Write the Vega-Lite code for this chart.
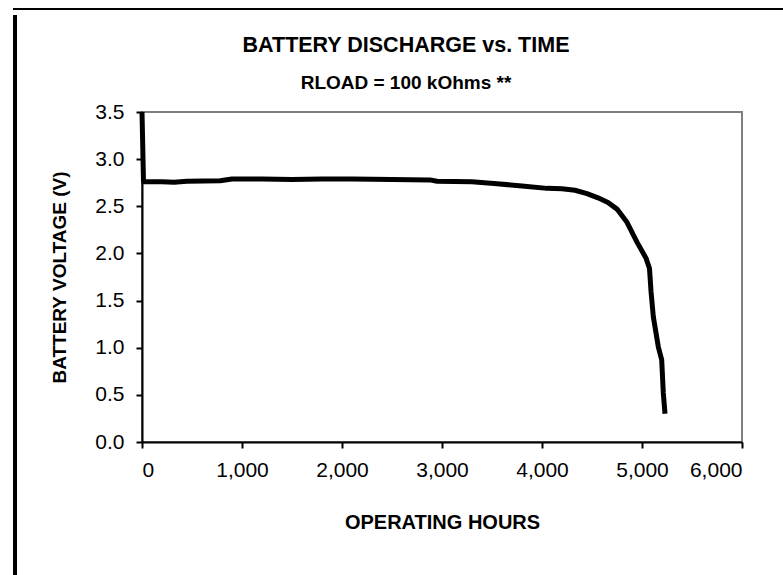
{
  "$schema": "https://vega.github.io/schema/vega-lite/v6.json",
  "background": "white",
  "padding": {"left": 12, "top": 6, "right": 0, "bottom": 0},
  "spacing": 0,
  "align": "none",
  "vconcat": [
    {
      "width": 771,
      "height": 2,
      "view": {"fill": "black", "stroke": null},
      "data": {"values": [{}]},
      "mark": {"type": "point", "opacity": 0},
      "encoding": {}
    },
    {
      "spacing": 31,
      "align": "none",
      "hconcat": [
        {
          "width": 4,
          "height": 567,
          "view": {"fill": "black", "stroke": null},
          "data": {"values": [{}]},
          "mark": {"type": "point", "opacity": 0},
          "encoding": {}
        },
        {
          "spacing": 15,
          "align": "none",
          "vconcat": [
            {
              "width": 10,
              "height": 1,
              "view": {"fill": null, "stroke": null},
              "data": {"values": [{}]},
              "mark": {"type": "point", "opacity": 0},
              "encoding": {}
            },
            {
              "width": 600,
              "height": 330,
              "view": {"stroke": "#7f7f7f", "strokeWidth": 2, "fill": "white"},
              "title": {
                "text": "BATTERY DISCHARGE vs. TIME",
                "subtitle": "RLOAD = 100 kOhms **",
                "anchor": "middle",
                "dx": -36,
                "font": "Liberation Sans, Arial, sans-serif",
                "fontSize": 21.5,
                "fontWeight": "bold",
                "color": "black",
                "subtitleFont": "Liberation Sans, Arial, sans-serif",
                "subtitleFontSize": 19,
                "subtitleFontWeight": "bold",
                "subtitleColor": "black",
                "subtitlePadding": 17,
                "offset": 8.5
              },
              "data": {
                "values": [
                  {"hours": 0, "volts": 3.5},
                  {"hours": 15, "volts": 2.76},
                  {"hours": 200, "volts": 2.76},
                  {"hours": 320, "volts": 2.755},
                  {"hours": 450, "volts": 2.765},
                  {"hours": 780, "volts": 2.77},
                  {"hours": 900, "volts": 2.79},
                  {"hours": 1200, "volts": 2.79},
                  {"hours": 1500, "volts": 2.785},
                  {"hours": 1800, "volts": 2.79},
                  {"hours": 2100, "volts": 2.79},
                  {"hours": 2500, "volts": 2.785},
                  {"hours": 2880, "volts": 2.78},
                  {"hours": 2950, "volts": 2.765},
                  {"hours": 3300, "volts": 2.76},
                  {"hours": 3550, "volts": 2.74},
                  {"hours": 3800, "volts": 2.715},
                  {"hours": 4050, "volts": 2.69},
                  {"hours": 4200, "volts": 2.685},
                  {"hours": 4330, "volts": 2.67},
                  {"hours": 4450, "volts": 2.635},
                  {"hours": 4560, "volts": 2.59},
                  {"hours": 4660, "volts": 2.54},
                  {"hours": 4750, "volts": 2.47},
                  {"hours": 4850, "volts": 2.33},
                  {"hours": 4950, "volts": 2.12},
                  {"hours": 5040, "volts": 1.95},
                  {"hours": 5075, "volts": 1.84},
                  {"hours": 5090, "volts": 1.6},
                  {"hours": 5113, "volts": 1.33},
                  {"hours": 5163, "volts": 1.01},
                  {"hours": 5197, "volts": 0.87},
                  {"hours": 5213, "volts": 0.52},
                  {"hours": 5230, "volts": 0.3}
                ]
              },
              "mark": {"type": "line", "color": "black", "strokeWidth": 5, "strokeJoin": "round"},
              "encoding": {
                "x": {
                  "field": "hours",
                  "type": "quantitative",
                  "scale": {"domain": [0, 6000], "nice": false},
                  "axis": {
                    "values": [0, 1000, 2000, 3000, 4000, 5000, 6000],
                    "format": ",d",
                    "title": "OPERATING HOURS",
                    "titleFontSize": 20,
                    "grid": false,
                    "labelPadding": 11,
                    "titlePadding": 32
                  }
                },
                "y": {
                  "field": "volts",
                  "type": "quantitative",
                  "scale": {"domain": [0, 3.5], "nice": false},
                  "axis": {
                    "values": [0, 0.5, 1, 1.5, 2, 2.5, 3, 3.5],
                    "format": ".1f",
                    "title": "BATTERY VOLTAGE (V)",
                    "titleFontSize": 19,
                    "grid": false,
                    "labelPadding": 12,
                    "titlePadding": 25.5
                  }
                }
              }
            }
          ]
        }
      ]
    }
  ],
  "config": {
    "axis": {
      "domainColor": "black",
      "domainWidth": 2,
      "tickColor": "black",
      "tickWidth": 2,
      "tickSize": 6,
      "labelFont": "Liberation Sans, Arial, sans-serif",
      "labelFontSize": 21,
      "labelColor": "black",
      "titleFont": "Liberation Sans, Arial, sans-serif",
      "titleFontWeight": "bold",
      "titleColor": "black"
    }
  }
}
